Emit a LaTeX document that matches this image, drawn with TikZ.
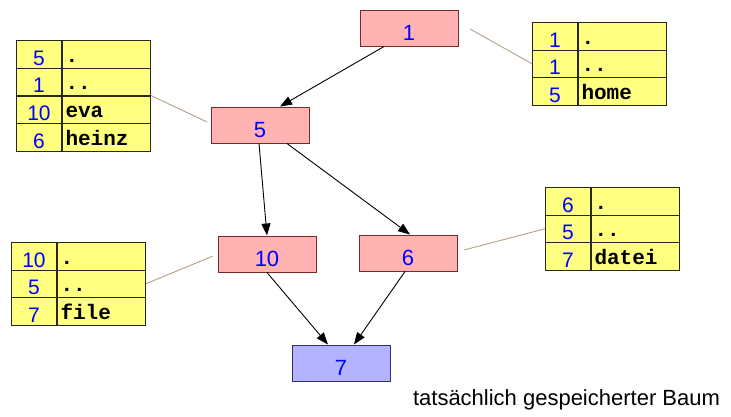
\documentclass[tikz,border=0pt]{standalone}
\usepackage{fontspec}
\setmainfont{Liberation Sans}
\newfontfamily\monob{Liberation Mono}
\usetikzlibrary{arrows.meta}
\definecolor{pinkfill}{RGB}{255,179,179}
\definecolor{pinkline}{RGB}{120,40,40}
\definecolor{bluefill}{RGB}{179,179,255}
\definecolor{blueline}{RGB}{50,50,100}
\definecolor{yellowfill}{RGB}{255,255,128}
\definecolor{tableline}{RGB}{40,40,20}
\definecolor{numblue}{RGB}{0,0,255}
\definecolor{tanline}{RGB}{180,160,135}
\tikzset{
  treebox/.style={draw=pinkline, line width=1pt, fill=pinkfill, minimum width=98pt, minimum height=36pt, inner sep=0pt,
    text=numblue, font=\fontsize{22}{26}\selectfont, text height=30pt, text depth=6pt},
  leafbox/.style={treebox, draw=blueline, fill=bluefill},
  numcell/.style={draw=tableline, line width=1pt, fill=yellowfill, minimum width=45pt, minimum height=27.5pt,
    inner sep=0pt, text=numblue, font=\fontsize{21}{24}\selectfont, text height=24.5pt, text depth=3pt, anchor=north west},
  namecell/.style={draw=tableline, line width=1pt, fill=yellowfill, text width=82pt, inner xsep=3pt, inner ysep=0pt,
    minimum height=27.5pt, align=left, font=\monob\bfseries\fontsize{21}{24}\selectfont, text height=21.5pt, text depth=6pt, anchor=west},
  treearrow/.style={draw=black, line width=0.9pt, -{Triangle[length=12pt,width=9pt]}},
  linkline/.style={draw=tanline, line width=0.9pt},
}
\newcommand\dirrow[5]{%
  \node[numcell] (#1n) at (#2,#3) {#4};
  \node[namecell] (#1e) at (#1n.east) {#5};
}
\begin{document}
\begin{tikzpicture}[x=1pt,y=-1pt]
\useasboundingbox (0,0) rectangle (731,416);

% tree nodes
\node[treebox] (n1) at (409,28) {1};
\node[treebox] (n5) at (260,125) {5};
\node[treebox] (n10) at (267,254) {10};
\node[treebox] (n6) at (408,253) {6};
\node[leafbox] (n7) at (341,363) {7};

% arrows
\draw[treearrow] ([xshift=-25pt]n1.south) -- ([xshift=20pt]n5.north);
\draw[treearrow] ([xshift=-1pt]n5.south) -- (n10.north);
\draw[treearrow] ([xshift=27pt]n5.south) -- ([xshift=2pt]n6.north);
\draw[treearrow] (n10.south) -- ([xshift=-13pt]n7.north);
\draw[treearrow] ([xshift=-3pt]n6.south) -- ([xshift=13pt]n7.north);

% table top left (dir 5)
\dirrow{ta1}{16}{40}{5}{.}
\dirrow{ta2}{16}{67.75}{1}{..}
\dirrow{ta3}{16}{95.5}{10}{eva}
\dirrow{ta4}{16}{123.25}{6}{heinz}

% table top right (dir 1)
\dirrow{tb1}{532}{22}{1}{.}
\dirrow{tb2}{532}{49.5}{1}{..}
\dirrow{tb3}{532}{77}{5}{home}

% table bottom left (dir 10)
\dirrow{tc1}{11}{242}{10}{.}
\dirrow{tc2}{11}{269.5}{5}{..}
\dirrow{tc3}{11}{297}{7}{file}

% table right (dir 6)
\dirrow{td1}{545}{187}{6}{.}
\dirrow{td2}{545}{214.5}{5}{..}
\dirrow{td3}{545}{242}{7}{datei}

% links
\coordinate (l5) at (207,122);
\coordinate (l1) at (470,29);
\coordinate (l10) at (213,256);
\coordinate (l6) at (464,250);
\draw[linkline] (ta3e.north east) -- (l5);
\draw[linkline] (l1) -- (tb2n.west);
\draw[linkline] (tc2e.east) -- (l10);
\draw[linkline] (l6) -- (td2n.west);

\node[font=\fontsize{22}{26}\selectfont] (cap) at (566.5,400) {tatsächlich gespeicherter Baum};
\end{tikzpicture}
\end{document}
